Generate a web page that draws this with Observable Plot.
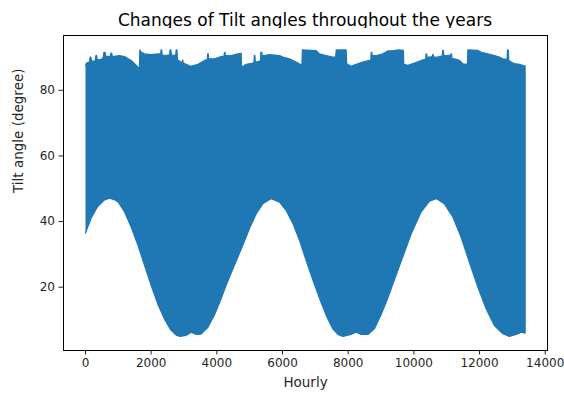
<!DOCTYPE html>
<html>
<head>
<meta charset="utf-8">
<script src="https://cdn.jsdelivr.net/npm/d3@7"></script>
<script src="https://cdn.jsdelivr.net/npm/@observablehq/plot@0.6"></script>
<style>
  body { margin: 0; background: #fff; }
  #chart { position: relative; width: 564px; height: 395px; font-family: "DejaVu Sans", sans-serif; }
  #title { position: absolute; left: 305px; top: 10px; transform: translateX(-50%); white-space: nowrap;
           font-size: 17px; line-height: 20px; color: #000; }
  #plot { position: absolute; left: 0; top: 28px; }
</style>
</head>
<body>
<div id="chart">
  <div id="title">Changes of Tilt angles throughout the years</div>
  <div id="plot"></div>
</div>
<script>
// Upper envelope of the hourly tilt series (daily maxima, with short spikes)
const upperHour = [0, 40, 120, 140, 165, 180, 300, 315, 340, 355, 480, 540, 560, 600, 620, 760, 775, 800, 815,
  1035, 1188, 1392, 1544, 1640, 1655, 1700, 1797, 2000, 2205, 2290, 2300, 2320, 2335, 2406, 2560, 2575, 2600, 2615,
  2690, 2750, 2760, 2785, 2800, 2832, 2950, 2960, 2975, 3066, 3200, 3423, 3624, 3710, 3720, 3740, 3750, 3928, 4132,
  4220, 4230, 4250, 4260, 4437, 4641, 4741, 4755, 4894, 5097, 5130, 5140, 5160, 5170, 5198, 5330, 5340, 5370, 5380,
  5451, 5603, 5908, 6011, 6212, 6416, 6590, 6605, 7025, 7126, 7330, 7533, 7620, 7634, 7938, 7955, 8091, 8243, 8447,
  8648, 8690, 8700, 8720, 8730, 8852, 9056, 9208, 9360, 9513, 9680, 9695, 9817, 10018, 10222, 10360, 10370, 10390,
  10400, 10475, 10560, 10570, 10590, 10600, 10731, 10870, 10880, 10900, 10910, 10984, 11120, 11130, 11150, 11160,
  11236, 11389, 11492, 11630, 11644, 11949, 12050, 12253, 12454, 12607, 12710, 12840, 12850, 12875, 12890, 13063,
  13216, 13389];
const upperTilt = [87.6, 88.4, 88.6, 90.1, 90.1, 88.9, 89.0, 90.6, 90.6, 89.3, 89.4, 90.0, 91.6, 91.6, 90.3, 90.4, 91.3, 91.3, 90.3,
  90.6, 90.3, 89.1, 87.6, 86.6, 92.3, 91.6, 91.1, 90.9, 91.1, 91.1, 92.3, 92.3, 90.8, 90.6, 90.8, 92.3, 92.3, 90.8,
  90.6, 90.8, 92.3, 92.3, 89.3, 89.1, 88.4, 89.3, 88.3, 87.9, 87.3, 87.9, 89.1, 89.4, 91.1, 91.1, 89.6, 89.6, 90.3,
  90.4, 91.6, 91.6, 90.6, 90.6, 91.1, 91.3, 87.0, 87.9, 88.3, 88.5, 90.6, 90.6, 88.7, 88.6, 89.0, 91.6, 91.6, 90.6,
  90.6, 90.9, 90.6, 90.1, 89.6, 88.6, 87.6, 92.3, 92.1, 91.1, 90.6, 90.1, 90.1, 92.3, 92.3, 88.1, 87.3, 87.9, 88.6,
  89.1, 89.2, 91.6, 91.6, 90.6, 90.6, 91.1, 92.0, 92.0, 92.3, 92.2, 87.9, 87.6, 88.3, 89.1, 89.5, 91.1, 91.1,
  90.1, 90.1, 90.3, 90.9, 90.9, 90.1, 90.1, 90.5, 92.2, 92.2, 90.6, 90.6, 90.7, 91.1, 91.1, 89.6,
  89.6, 89.1, 88.1, 87.9, 92.3, 92.2, 91.6, 91.1, 90.6, 90.1, 89.6, 89.4, 92.3, 92.3, 89.1, 88.1,
  87.9, 87.4];

// Lower envelope of the hourly tilt series (daily minima)
const lowerHour = [0, 170, 370, 580, 730, 900, 1000, 1190, 1390, 1600, 1800, 2000, 2200, 2400, 2600, 2760, 2880,
  3060, 3220, 3370, 3520, 3730, 3930, 4130, 4340, 4590, 4800, 5000, 5200, 5400, 5660, 5910, 6110, 6320, 6520, 6720,
  6930, 7130, 7330, 7530, 7700, 7840, 8090, 8240, 8400, 8600, 8800, 9000, 9200, 9400, 9610, 9920, 10220, 10475,
  10680, 10930, 11190, 11440, 11690, 11950, 12200, 12450, 12710, 12910, 13115, 13270, 13389];
const lowerTilt = [36.5, 41.0, 44.6, 46.6, 47.1, 46.6, 45.9, 42.9, 38.3, 32.7, 26.6, 20.5, 14.9, 10.4, 6.9, 5.4, 5.0,
  5.3, 6.3, 5.6, 5.7, 7.8, 11.6, 16.5, 22.0, 28.0, 33.0, 38.0, 42.4, 45.4, 47.0, 45.9, 43.4, 39.3, 34.2, 28.1,
  22.0, 16.5, 11.4, 7.3, 5.5, 5.0, 5.6, 6.3, 5.6, 5.6, 7.3, 11.6, 16.5, 22.0, 27.8, 36.3, 42.9, 46.2,
  47.0, 45.4, 41.3, 35.2, 27.6, 20.0, 13.4, 8.3, 5.8, 5.0, 5.6, 6.3, 6.0];

const xTicks = [0, 2000, 4000, 6000, 8000, 10000, 12000, 14000];
const yTicks = [20, 40, 60, 80];

// Closed outline: along the maxima left to right, back along the minima right to left
const band = [
  ...upperHour.map((h, i) => ({hour: h, tilt: upperTilt[i]})),
  ...lowerHour.map((h, i) => ({hour: h, tilt: lowerTilt[i]})).reverse()
];

const chart = Plot.plot({
  width: 564,
  height: 367,
  marginLeft: 63,
  marginRight: 17,
  marginTop: 7,
  marginBottom: 45,
  style: {fontFamily: "DejaVu Sans, sans-serif", fontSize: "12px", color: "#262626", background: "white"},
  x: {domain: [-670, 14070], ticks: xTicks, tickFormat: "d", tickSize: 4.5, tickPadding: 3, label: null},
  y: {domain: [0.7, 96.7], ticks: yTicks, tickFormat: "d", tickSize: 4.5, tickPadding: 4, label: null},
  marks: [
    Plot.line(band, {x: "hour", y: "tilt", fill: "#1f77b4", stroke: "#1f77b4", strokeWidth: 1.2}),
    Plot.frame({stroke: "#000", strokeWidth: 1}),
    Plot.text(["Hourly"], {frameAnchor: "bottom", dy: 36, fill: "#262626", fontSize: 13.5}),
    Plot.text(["Tilt angle (degree)"], {frameAnchor: "left", dx: -45, rotate: -90, fill: "#262626", fontSize: 13.5})
  ]
});
document.getElementById("plot").appendChild(chart);
</script>
</body>
</html>
